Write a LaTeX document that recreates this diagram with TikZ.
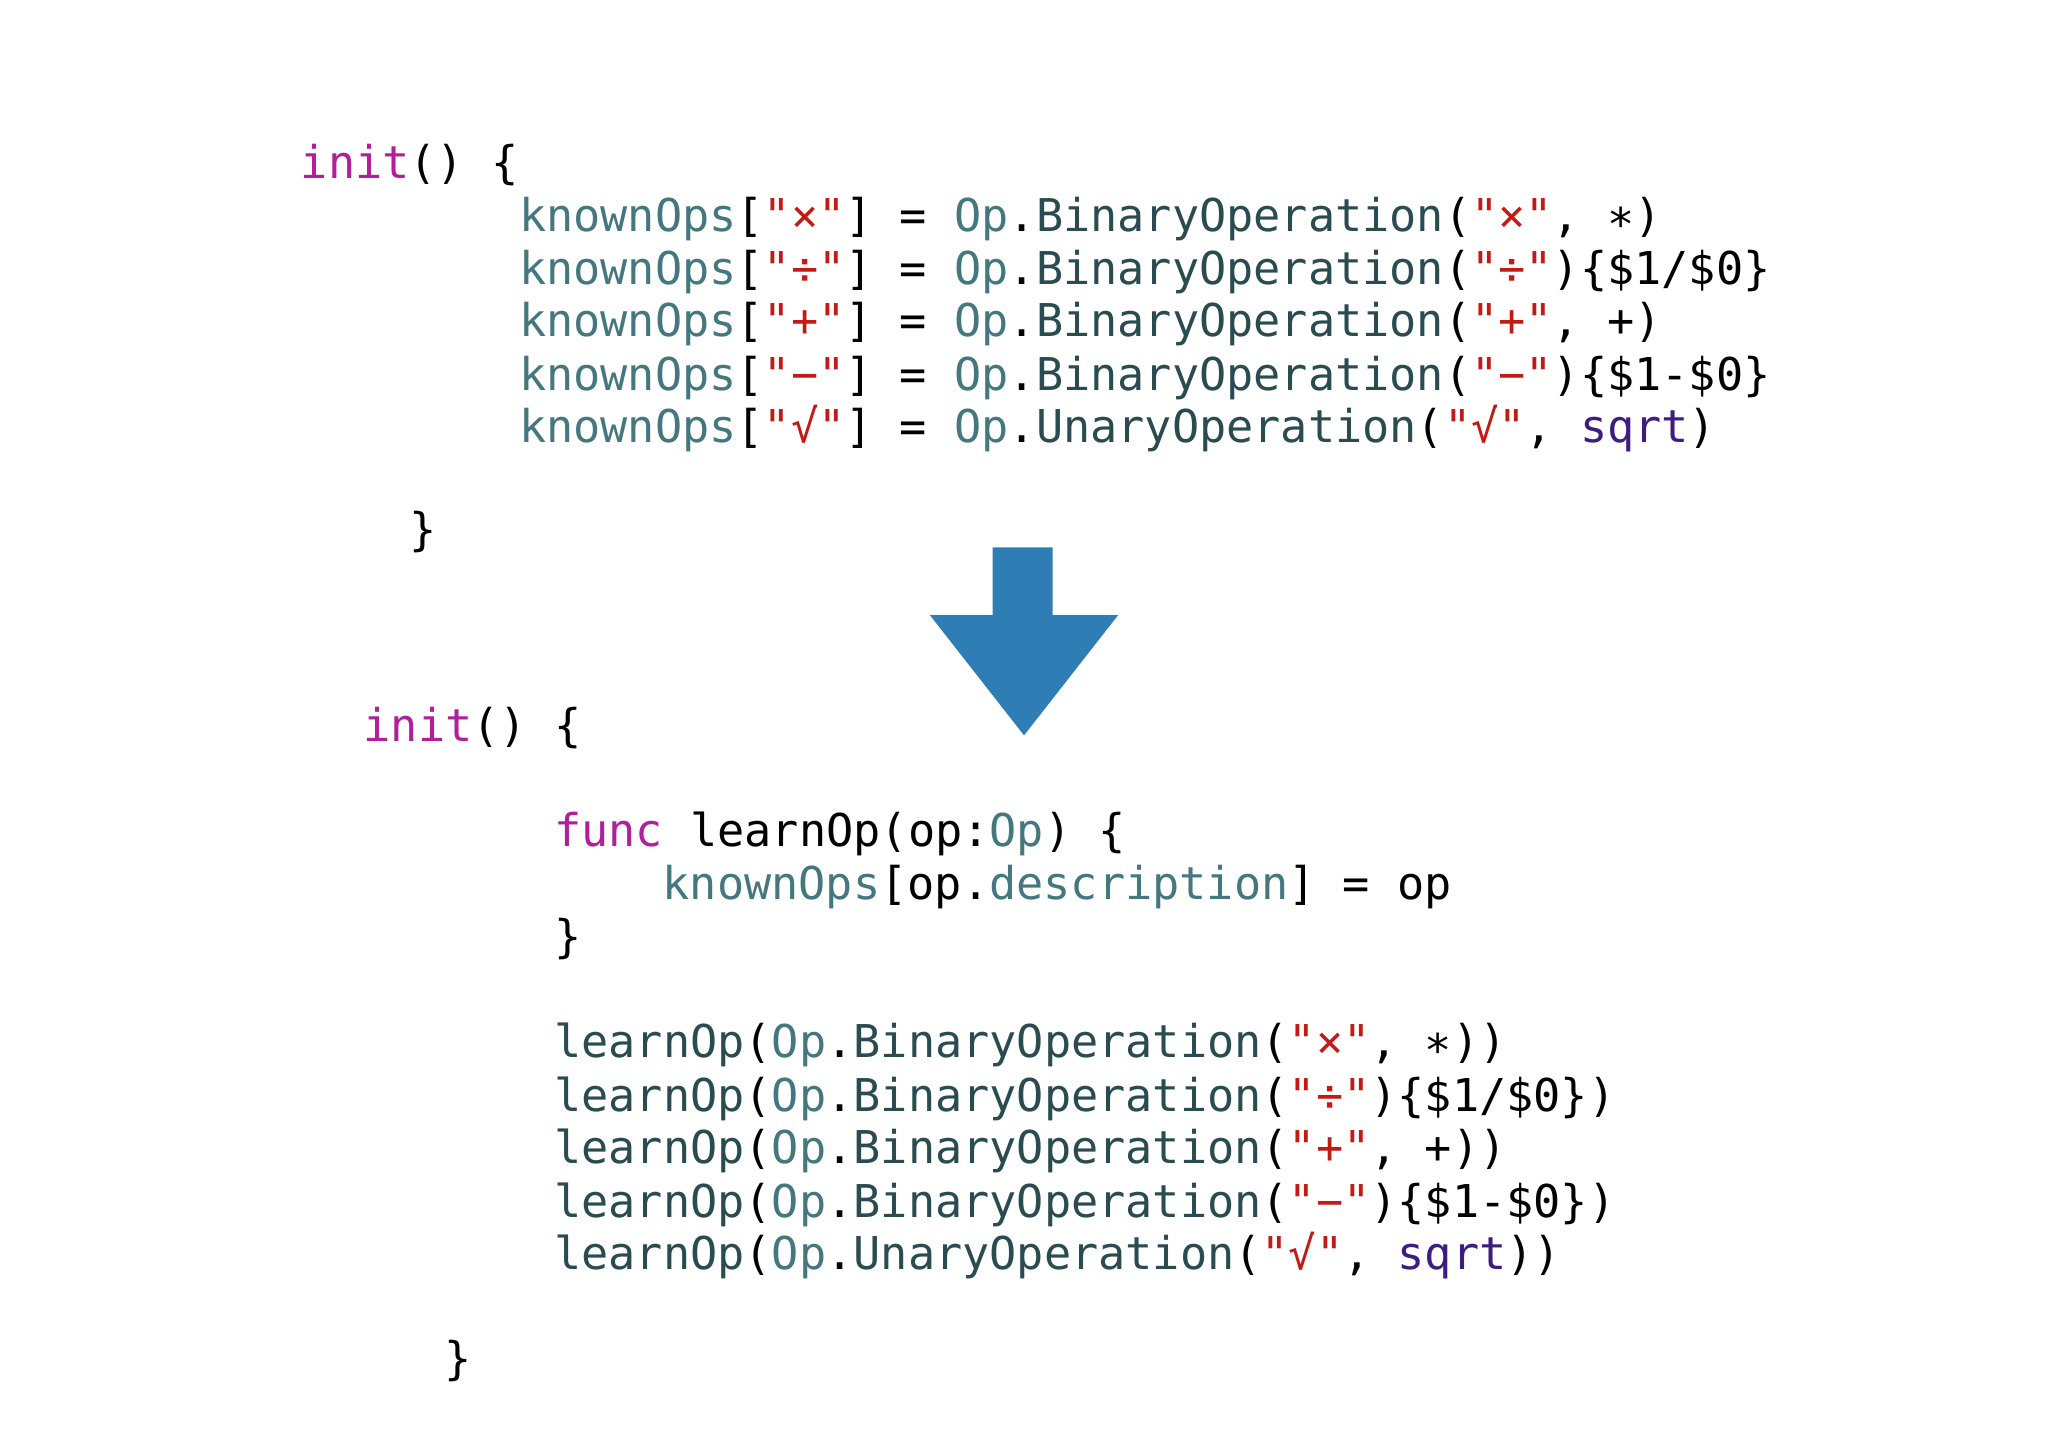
\documentclass[tikz,border=0pt]{standalone}
\usepackage{fontspec}
\setmonofont{DejaVu Sans Mono}
\definecolor{kwc}{HTML}{B0209A}
\definecolor{tyc}{HTML}{44787E}
\definecolor{fnc}{HTML}{2A4C50}
\definecolor{stc}{HTML}{C41A16}
\definecolor{puc}{HTML}{3D1D81}
\definecolor{arrc}{HTML}{2F7DB5}
\newcommand{\kw}[1]{\textcolor{kwc}{#1}}
\newcommand{\ty}[1]{\textcolor{tyc}{#1}}
\newcommand{\fn}[1]{\textcolor{fnc}{#1}}
\newcommand{\stq}[1]{\textcolor{stc}{"#1"}}
\newcommand{\pu}[1]{\textcolor{puc}{#1}}
\begin{document}
\begin{tikzpicture}[x=0.5pt,y=-0.5pt,
  code/.style={anchor=base west,inner sep=0pt,font=\ttfamily\fontsize{17.3}{20}\selectfont}]
\useasboundingbox (0,0) rectangle (1568,1108);
\node[code] (a0) at (230,137) {\kw{init}() \{};
\node[code] (a1) at (397,177) {\ty{knownOps}[\stq{×}] = \ty{Op}.\fn{BinaryOperation}(\stq{×}, ∗)};
\node[code] (a2) at (397,218) {\ty{knownOps}[\stq{÷}] = \ty{Op}.\fn{BinaryOperation}(\stq{÷})\{\$1/\$0\}};
\node[code] (a3) at (397,258) {\ty{knownOps}[\stq{+}] = \ty{Op}.\fn{BinaryOperation}(\stq{+}, +)};
\node[code] (a4) at (397,299) {\ty{knownOps}[\stq{−}] = \ty{Op}.\fn{BinaryOperation}(\stq{−})\{\$1-\$0\}};
\node[code] (a5) at (397,339) {\ty{knownOps}[\stq{√}] = \ty{Op}.\fn{UnaryOperation}(\stq{√}, \pu{sqrt})};
\node[code] (a6) at (313,418) {\}};
\fill[arrc] (760,419) -- (806,419) -- (806,471) -- (856,471) -- (784,563) -- (712,471) -- (760,471) -- cycle;
\node[code] (b0) at (278,568) {\kw{init}() \{};
\node[code] (b1) at (424,648) {\kw{func} learnOp(op:\ty{Op}) \{};
\node[code] (b2) at (507,689) {\ty{knownOps}[op.\ty{description}] = op};
\node[code] (b3) at (424,729) {\}};
\node[code] (b4) at (424,810) {\fn{learnOp}(\ty{Op}.\fn{BinaryOperation}(\stq{×}, ∗))};
\node[code] (b5) at (424,851) {\fn{learnOp}(\ty{Op}.\fn{BinaryOperation}(\stq{÷})\{\$1/\$0\})};
\node[code] (b6) at (424,891) {\fn{learnOp}(\ty{Op}.\fn{BinaryOperation}(\stq{+}, +))};
\node[code] (b7) at (424,932) {\fn{learnOp}(\ty{Op}.\fn{BinaryOperation}(\stq{−})\{\$1-\$0\})};
\node[code] (b8) at (424,972) {\fn{learnOp}(\ty{Op}.\fn{UnaryOperation}(\stq{√}, \pu{sqrt}))};
\node[code] (b9) at (340,1052) {\}};
\end{tikzpicture}
\end{document}
